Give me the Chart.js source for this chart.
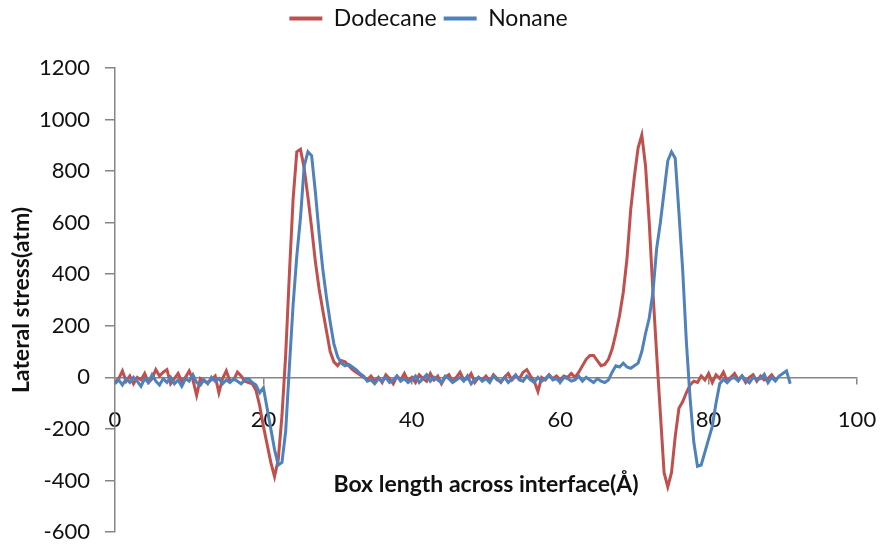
<!DOCTYPE html>
<html>
<head>
<meta charset="utf-8">
<script src="https://cdn.jsdelivr.net/npm/chart.js@4"></script>
<style>
  html, body { margin: 0; padding: 0; background: #fff; }
  #wrap { width: 882px; height: 546px; }
</style>
</head>
<body>
<div id="wrap"><canvas id="stressChart" width="882" height="546"></canvas></div>
<script>
// box position across the interface (Å)
const boxLength = [
  0, 0.5, 1, 1.5, 2, 2.5, 3, 3.5, 4, 4.5,
  5, 5.5, 6, 6.5, 7, 7.5, 8, 8.5, 9, 9.5,
  10, 10.5, 11, 11.5, 12, 12.5, 13, 13.5, 14, 14.5,
  15, 15.5, 16, 16.5, 17, 17.5, 18, 18.5, 19, 19.5,
  20, 20.5, 21, 21.5, 22, 22.5, 23, 23.5, 24, 24.5,
  25, 25.5, 26, 26.5, 27, 27.5, 28, 28.5, 29, 29.5,
  30, 30.5, 31, 31.5, 32, 32.5, 33, 33.5, 34, 34.5,
  35, 35.5, 36, 36.5, 37, 37.5, 38, 38.5, 39, 39.5,
  40, 40.5, 41, 41.5, 42, 42.5, 43, 43.5, 44, 44.5,
  45, 45.5, 46, 46.5, 47, 47.5, 48, 48.5, 49, 49.5,
  50, 50.5, 51, 51.5, 52, 52.5, 53, 53.5, 54, 54.5,
  55, 55.5, 56, 56.5, 57, 57.5, 58, 58.5, 59, 59.5,
  60, 60.5, 61, 61.5, 62, 62.5, 63, 63.5, 64, 64.5,
  65, 65.5, 66, 66.5, 67, 67.5, 68, 68.5, 69, 69.5,
  70, 70.5, 71, 71.5, 72, 72.5, 73, 73.5, 74, 74.5,
  75, 75.5, 76, 76.5, 77, 77.5, 78, 78.5, 79, 79.5,
  80, 80.5, 81, 81.5, 82, 82.5, 83, 83.5, 84, 84.5,
  85, 85.5, 86, 86.5, 87, 87.5, 88, 88.5, 89, 89.5,
  90, 90.5, 91
];

// lateral stress (atm)
const dodecane = [
  -20, -5, 25, -15, 5, -25, 0, -10, 15, -20,
  -5, 30, 5, 20, 30, -25, -5, 15, -15, 0,
  25, -10, -70, -5, -15, -20, -10, 5, -60, -5,
  25, -15, -10, 20, 5, -15, -20, -25, -50, -110,
  -190, -260, -330, -385, -320, -150, 85, 400, 690, 875,
  885, 810, 700, 580, 450, 345, 260, 180, 100, 60,
  45, 65, 60, 45, 30, 20, 10, 0, -10, 5,
  -15, 0, -20, 10, -5, -25, 5, -10, 15, -15,
  0, -20, 10, -5, -15, 15, -10, 5, -25, 0,
  10, -15, 0, 20, -10, -5, 15, -20, 0, -10,
  5, -15, 10, -5, -20, 0, 15, -10, 5, -5,
  20, 30, 5, -15, -55, 0, -10, 10, -5, 5,
  -10, 5, 0, 15, 0, 20, 45, 70, 85, 85,
  65, 45, 50, 70, 110, 170, 240, 330, 460, 650,
  780, 890, 940, 820, 600, 330, 90, -140, -370, -425,
  -370, -230, -120, -95, -60, -30, -15, -20, 5, -10,
  15, -20, 10, -5, 20, -15, 0, 15, -10, 5,
  -20, 0, 10, -15, 5, -10, -5, 10, -10, null,
  null, null, null
];

const nonane = [
  -25, -10, -30, -5, -20, 0, -15, -35, -5, -20,
  10, -15, -30, -5, -20, 0, -25, -10, -35, -5,
  -15, 10, -20, -30, -10, -25, 0, -15, -5, -25,
  -10, -20, -5, -15, -25, -10, -5, -20, -30, -60,
  -40, -120, -200, -280, -340, -330, -210, 40, 280, 470,
  620, 820, 875, 860, 720, 560, 420, 310, 215, 130,
  80, 55, 45, 50, 40, 30, 15, 5, -15, -10,
  -25, -5, -15, 0, -20, -10, 5, -15, -5, -20,
  -10, 5, -20, -5, 10, -15, 0, -10, -20, 5,
  -5, -20, -10, 0, -15, 5, -25, -10, 0, -15,
  -5, -20, 5, -10, -15, 0, -20, -5, 10, -10,
  -15, 5, -10, -20, 0, -15, -5, 10, -10, -5,
  -20, 0, -5, -15, -10, 5, -15, 0, -10, -20,
  -5, -15, -20, -10, 20, 45, 40, 55, 40, 35,
  45, 55, 100, 170, 230, 330, 500, 600, 720, 840,
  875, 850, 640, 420, 140, -80, -250, -345, -340, -290,
  -240, -190, -100, -25, -8, -21, -5, -1, -14, 6,
  -10, -21, 0, -8, -5, 12, -21, 0, -14, 5,
  15, 25, -25
];

const seriesNames = ['Dodecane', 'Nonane'];
const xTicks = [0, 20, 40, 60, 80, 100];
const yTicks = [-600, -400, -200, 0, 200, 400, 600, 800, 1000, 1200];

function toPoints(values) {
  return boxLength.map(function (x, i) { return { x: x, y: values[i] }; });
}

const axisGrey = '#868686';
const fontFamily = "Lato, 'Open Sans', sans-serif";

new Chart(document.getElementById('stressChart').getContext('2d'), {
  type: 'line',
  data: {
    datasets: [{
      label: seriesNames[0],
      data: toPoints(dodecane),
      borderColor: '#C0504D',
      backgroundColor: '#C0504D',
      borderWidth: 3,
      pointRadius: 0,
      tension: 0,
      order: 1
    }, {
      label: seriesNames[1],
      data: toPoints(nonane),
      borderColor: '#4F81BD',
      backgroundColor: '#4F81BD',
      borderWidth: 3,
      pointRadius: 0,
      tension: 0,
      order: 0
    }]
  },
  options: {
    responsive: false,
    animation: false,
    layout: { padding: { left: 0, right: 25, top: 0, bottom: 14 } },
    plugins: {
      tooltip: { enabled: false },
      // empty title only used as a spacer under the legend
      title: { display: true, text: ' ', font: { size: 10 }, padding: { top: 0, bottom: 16 } },
      legend: {
        position: 'top',
        weight: 3000,
        labels: {
          color: '#111',
          font: { family: fontFamily, size: 23 },
          boxWidth: 33,
          boxHeight: 4,
          padding: 7,
          sort: function (a, b) { return a.datasetIndex - b.datasetIndex; },
          generateLabels: function (chart) {
            const items = Chart.defaults.plugins.legend.labels.generateLabels(chart);
            items.forEach(function (item) {
              item.lineWidth = 0;
              item.fillStyle = item.strokeStyle;
            });
            return items;
          }
        }
      }
    },
    scales: {
      x: {
        type: 'linear',
        position: { y: 0 },
        min: 0,
        max: 100,
        afterBuildTicks: function (scale) {
          scale.ticks = xTicks.map(function (v) { return { value: v }; });
        },
        afterFit: function (scale) { scale.paddingLeft = 0; scale.paddingRight = 0; },
        grid: { drawOnChartArea: false, drawTicks: true, tickLength: 6, color: axisGrey, lineWidth: 1.5 },
        border: { display: true, color: axisGrey, width: 1.5 },
        ticks: {
          color: '#111', padding: 23, maxRotation: 0,
          font: { family: fontFamily, size: 22 },
          callback: function (v) { return String(v); }
        },
        title: {
          display: true,
          text: 'Box length across interface(Å)',
          color: '#111',
          font: { family: fontFamily, size: 23, weight: 'bold' },
          padding: { top: 15, bottom: 0 }
        }
      },
      y: {
        type: 'linear',
        position: 'left',
        min: -600,
        max: 1200,
        afterBuildTicks: function (scale) {
          scale.ticks = yTicks.map(function (v) { return { value: v }; });
        },
        afterFit: function (scale) {
          scale.width = 115;
          scale.paddingTop = 0;
          scale.paddingBottom = 0;
        },
        grid: { drawOnChartArea: false, drawTicks: true, tickLength: 10, color: axisGrey, lineWidth: 1.5 },
        border: { display: true, color: axisGrey, width: 1.5 },
        ticks: {
          color: '#111', padding: 15,
          font: { family: fontFamily, size: 22 },
          callback: function (v) { return String(v); }
        },
        title: {
          display: true,
          text: 'Lateral stress(atm)',
          color: '#111',
          font: { family: fontFamily, size: 23, weight: 'bold' },
          padding: { top: 8, bottom: 0 }
        }
      }
    }
  }
});
</script>
</body>
</html>
